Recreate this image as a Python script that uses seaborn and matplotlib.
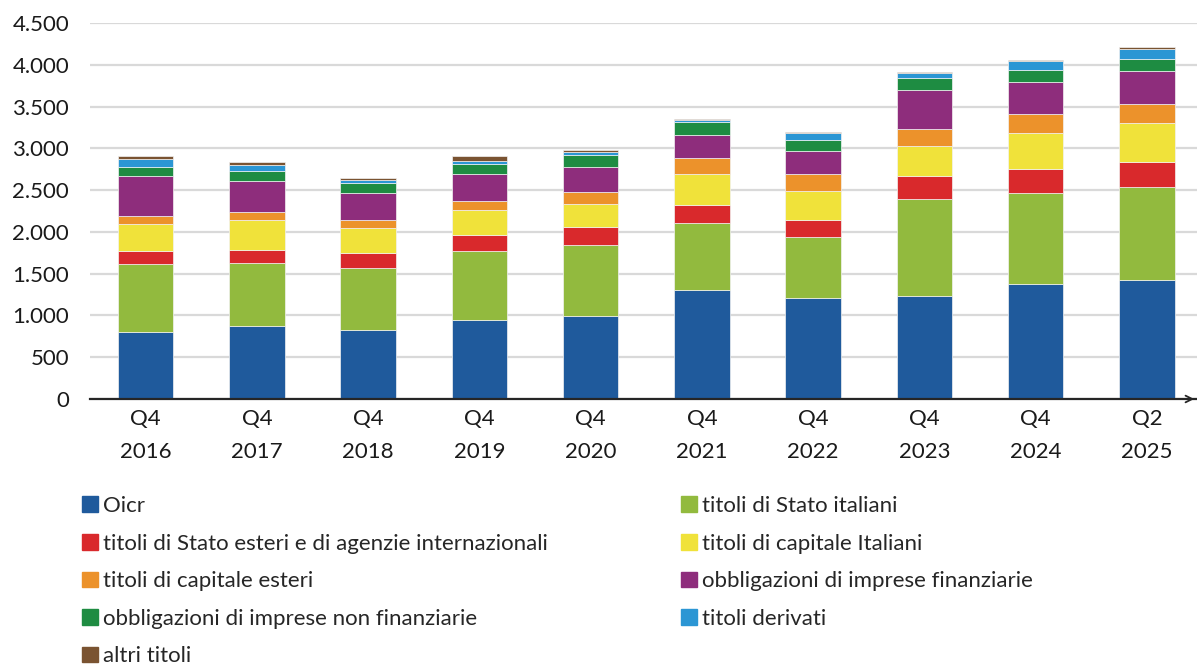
import matplotlib
matplotlib.use('Agg')
import matplotlib.pyplot as plt
import matplotlib.patches as mpatches
import seaborn as sns
import numpy as np
import pandas as pd

# periods (x axis)
periods = ['Q4\n2016', 'Q4\n2017', 'Q4\n2018', 'Q4\n2019', 'Q4\n2020',
           'Q4\n2021', 'Q4\n2022', 'Q4\n2023', 'Q4\n2024', 'Q2\n2025']

# series values
oicr = [805, 873, 829, 948, 989, 1307, 1204, 1235, 1379, 1423]
stato_ita = [810, 754, 738, 818, 853, 802, 734, 1153, 1081, 1116]
stato_est = [151, 159, 176, 195, 215, 215, 203, 279, 287, 296]
capitale_ita = [331, 355, 299, 299, 279, 371, 347, 359, 434, 466]
capitale_est = [92, 96, 95, 112, 140, 191, 199, 200, 224, 227]
obbl_fin = [478, 374, 330, 315, 299, 275, 283, 478, 383, 395]
obbl_nonfin = [111, 119, 120, 127, 140, 152, 124, 139, 147, 152]
derivati = [92, 69, 32, 32, 43, 30, 84, 56, 107, 115]
altri = [36, 32, 24, 60, 20, 12, 12, 12, 21, 23]

labels = ['Oicr', 'titoli di Stato italiani',
          'titoli di Stato esteri e di agenzie internazionali', 'titoli di capitale Italiani',
          'titoli di capitale esteri', 'obbligazioni di imprese finanziarie',
          'obbligazioni di imprese non finanziarie', 'titoli derivati', 'altri titoli']
colors = ['#1F5A9C', '#92BA3E', '#D9292C', '#F0E23A', '#EC922B',
          '#8E2D7C', '#1E8C42', '#2B96D4', '#7A5331']

df = pd.DataFrame(
    np.array([oicr, stato_ita, stato_est, capitale_ita, capitale_est,
              obbl_fin, obbl_nonfin, derivati, altri]).T,
    columns=labels, index=periods)

sns.set_theme(style='white')
plt.rcParams['font.family'] = ['Lato', 'DejaVu Sans']

fig = plt.figure(figsize=(11.97, 6.65), dpi=100)
ax = fig.add_axes([90 / 1197, 1 - 399 / 665, 1 - 90 / 1197, (399 - 23) / 665])

x = np.arange(len(periods))
bottom = np.zeros(len(periods))
for lab, col in zip(labels, colors):
    ax.bar(x, df[lab].values, bottom=bottom, width=0.5, color=col,
           edgecolor='#f2f2f2', linewidth=0.5, label=lab, zorder=3)
    bottom += df[lab].values

ax.set_ylim(0, 4500)
ax.set_xlim(-0.5, 9.45)
ax.set_yticks(np.arange(0, 4501, 500))
ax.set_yticklabels([f'{v:,}'.replace(',', '.') for v in range(0, 4501, 500)])
ax.set_xticks(x)
ax.set_xticklabels(periods, linespacing=1.8)
ax.yaxis.grid(True, color='#d9d9d9', linewidth=1.6, zorder=0)
ax.tick_params(axis='y', length=0, pad=15, labelsize=16, colors='#1a1a1a')
ax.tick_params(axis='x', length=0, pad=7, labelsize=16, colors='#1a1a1a')
for s in ['top', 'right', 'left']:
    ax.spines[s].set_visible(False)
ax.spines['bottom'].set_color('#262626')
ax.spines['bottom'].set_linewidth(1.6)
ax.spines['bottom'].set_zorder(4)
ax.annotate('', xy=(1.0, 0), xytext=(0.993, 0), xycoords='axes fraction',
            arrowprops=dict(arrowstyle='->', color='#262626', lw=1.3,
                            mutation_scale=12), annotation_clip=False)

handles = [mpatches.Patch(color=c, label=l) for l, c in zip(labels, colors)]
leg_kw = dict(frameon=False, fontsize=16, handlelength=0.7, handleheight=0.7,
              handletextpad=0.25, labelspacing=0.79, borderaxespad=0, borderpad=0)
fig.legend(handles=handles[0::2], loc='upper left',
           bbox_to_anchor=(82 / 1197, 1 - 496 / 665), **leg_kw)
fig.legend(handles=handles[1::2], loc='upper left',
           bbox_to_anchor=(681 / 1197, 1 - 496 / 665), **leg_kw)

fig.savefig('out.png', dpi=100)
